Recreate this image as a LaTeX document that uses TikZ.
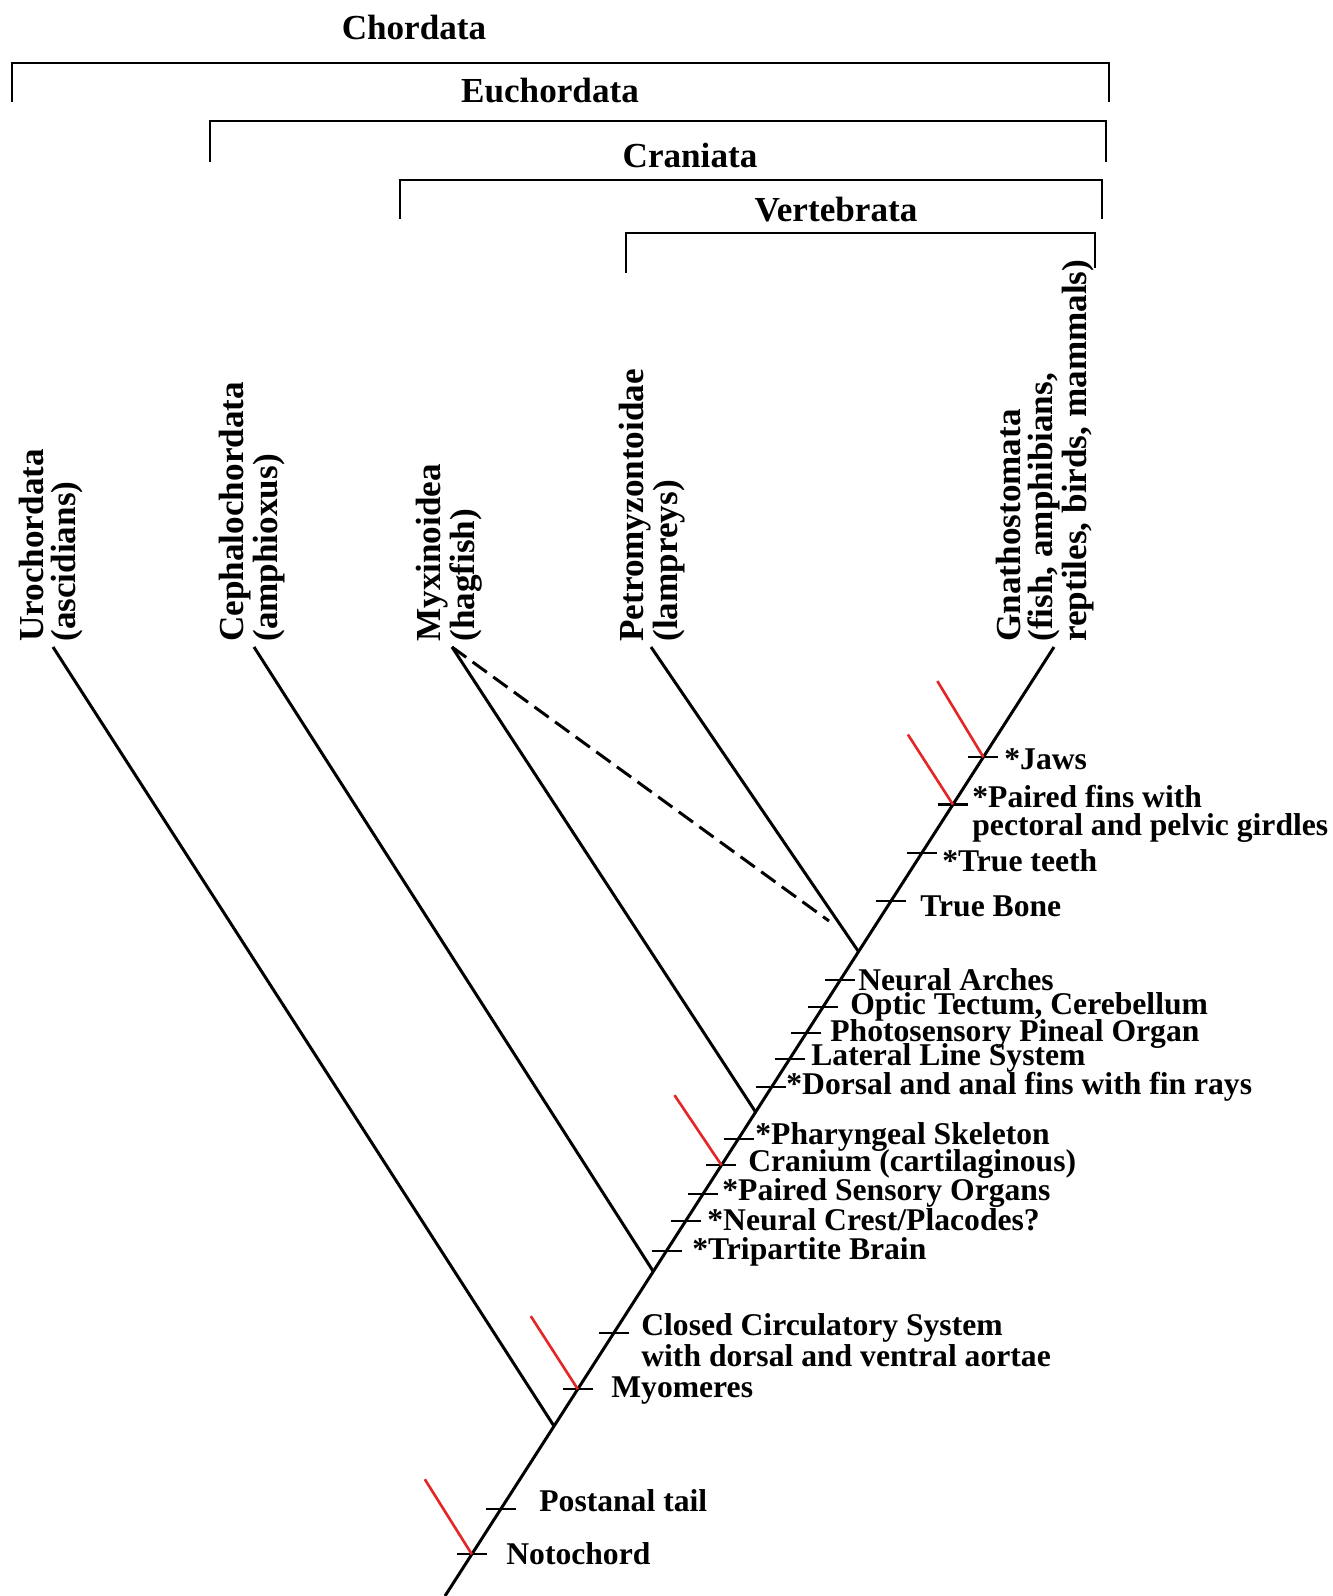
\documentclass[tikz,border=0pt]{standalone}
\usepackage{fontspec}
\setmainfont{Liberation Serif}
\usetikzlibrary{calc}

\definecolor{synred}{RGB}{228,38,38}

\begin{document}
\begin{tikzpicture}[x=0.2mm,y=-0.2mm]
  \tikzstyle{branch}=[line width=1.7pt]
  \tikzstyle{bracket}=[line width=1.3pt]
  \tikzstyle{tick}=[line width=1.2pt]
  \tikzstyle{synapo}=[draw=synred,line width=1.5pt]
  \tikzstyle{group}=[inner sep=0,font=\fontsize{20}{22}\selectfont\bfseries]
  \tikzstyle{taxon}=[rotate=90,anchor=north west,align=left,inner sep=0,font=\fontsize{20}{18}\selectfont\bfseries]
  \tikzstyle{trait}=[anchor=west,align=left,inner sep=0,font=\fontsize{18}{16.2}\selectfont\bfseries]

  \useasboundingbox (0,0) rectangle (1332,1596);

  % Group brackets
  \node[group] (chordata) at (414,27) {Chordata};
  \node[group] (euchordata) at (550,91) {Euchordata};
  \node[group] (craniata) at (690,155) {Craniata};
  \node[group] (vertebrata) at (836,210) {Vertebrata};
  \draw[bracket] (12,102) |- (1109,63) -- (1109,102);
  \draw[bracket] (210,162) |- (1106,121) -- (1106,162);
  \draw[bracket] (400,219) |- (1102,180) -- (1102,219);
  \draw[bracket] (626,273) |- (1095,233) -- (1095,268);

  % Taxa
  \node[taxon] (uro) at (19,642) {Urochordata\\(ascidians)};
  \node[taxon] (ceph) at (219,642) {Cephalochordata\\(amphioxus)};
  \node[taxon] (myx) at (416,642) {Myxinoidea\\(hagfish)};
  \node[taxon] (petro) at (619,642) {Petromyzontoidae\\(lampreys)};
  \node[taxon] (gnatho) at (996,642) {Gnathostomata\\(fish, amphibians,\\reptiles, birds, mammals)};

  % Trunk and junctions
  \coordinate (root) at (445,1596);
  \coordinate (tip) at (1054,647);
  \coordinate (urotop) at (53,647);
  \coordinate (cephtop) at (254,647);
  \coordinate (myxtop) at (452,647);
  \coordinate (petrotop) at (651,647);
  \coordinate (urojn) at ($(root)!0.179!(tip)$);
  \coordinate (cephjn) at ($(root)!0.342!(tip)$);
  \coordinate (myxjn) at ($(root)!0.510!(tip)$);
  \coordinate (petrojn) at ($(root)!0.679!(tip)$);
  \coordinate (dashend) at (829,921);

  \draw[branch] (root) -- (tip);
  \draw[branch] (urotop) -- (urojn);
  \draw[branch] (cephtop) -- (cephjn);
  \draw[branch] (myxtop) -- (myxjn);
  \draw[branch] (petrotop) -- (petrojn);
  \draw[branch,dash pattern=on 10pt off 4.5pt] (myxtop) -- (dashend);

  % Character ticks
  \coordinate (tnoto) at ($(root)!0.044!(tip)$);
  \coordinate (tpostanal) at ($(root)!0.092!(tip)$);
  \coordinate (tmyo) at ($(root)!0.218!(tip)$);
  \coordinate (tcirc) at ($(root)!0.277!(tip)$);
  \coordinate (tbrain) at ($(root)!0.364!(tip)$);
  \coordinate (tcrest) at ($(root)!0.395!(tip)$);
  \coordinate (tsense) at ($(root)!0.424!(tip)$);
  \coordinate (tcran) at ($(root)!0.454!(tip)$);
  \coordinate (tphar) at ($(root)!0.482!(tip)$);
  \coordinate (tdorsal) at ($(root)!0.536!(tip)$);
  \coordinate (tlat) at ($(root)!0.566!(tip)$);
  \coordinate (tpineal) at ($(root)!0.593!(tip)$);
  \coordinate (toptic) at ($(root)!0.621!(tip)$);
  \coordinate (tarch) at ($(root)!0.649!(tip)$);
  \coordinate (tbone) at ($(root)!0.732!(tip)$);
  \coordinate (tteeth) at ($(root)!0.783!(tip)$);
  \coordinate (tfins) at ($(root)!0.834!(tip)$);
  \coordinate (tjaws) at ($(root)!0.884!(tip)$);

  \draw[tick] (tnoto) ++(-15,0) -- ++(30,0);
  \draw[tick] (tpostanal) ++(-15,0) -- ++(30,0);
  \draw[tick] (tmyo) ++(-15,0) -- ++(30,0);
  \draw[tick] (tcirc) ++(-15,0) -- ++(30,0);
  \draw[tick] (tbrain) ++(-15,0) -- ++(30,0);
  \draw[tick] (tcrest) ++(-15,0) -- ++(30,0);
  \draw[tick] (tsense) ++(-15,0) -- ++(30,0);
  \draw[tick] (tcran) ++(-15,0) -- ++(30,0);
  \draw[tick] (tphar) ++(-15,0) -- ++(30,0);
  \draw[tick] (tdorsal) ++(-15,0) -- ++(30,0);
  \draw[tick] (tlat) ++(-15,0) -- ++(30,0);
  \draw[tick] (tpineal) ++(-15,0) -- ++(30,0);
  \draw[tick] (toptic) ++(-15,0) -- ++(30,0);
  \draw[tick] (tarch) ++(-15,0) -- ++(30,0);
  \draw[tick] (tbone) ++(-15,0) -- ++(30,0);
  \draw[tick] (tteeth) ++(-15,0) -- ++(30,0);
  \draw[tick] (tfins) ++(-15,0) -- ++(30,0);
  \draw[tick] (tjaws) ++(-15,0) -- ++(30,0);

  % Red marks
  \draw[synapo] (tnoto) -- ++(-47,-75);
  \draw[synapo] (tmyo) -- ++(-47,-73);
  \draw[synapo] (tcran) -- ++(-47,-70);
  \draw[synapo] (tfins) -- ++(-45,-70);
  \draw[synapo] (tjaws) -- ++(-46,-76);

  % Character labels
  \node[trait] (noto) at (506,1554) {Notochord};
  \node[trait] (postanal) at (539,1501) {Postanal tail};
  \node[trait] (myo) at (611,1391) {Myomeres};
  \node[trait] (circ) at (641,1340) {Closed Circulatory System\\with dorsal and ventral aortae};
  \node[trait] (brain) at (692,1252) {*Tripartite Brain};
  \node[trait] (crest) at (707,1220) {*Neural Crest/Placodes?};
  \node[trait] (sense) at (722,1193) {*Paired Sensory Organs};
  \node[trait] (cran) at (748,1164) {Cranium (cartilaginous)};
  \node[trait] (phar) at (755,1137) {*Pharyngeal Skeleton};
  \node[trait] (dorsal) at (786,1087) {*Dorsal and anal fins with fin rays};
  \node[trait] (lat) at (811,1058) {Lateral Line System};
  \node[trait] (pineal) at (830,1034) {Photosensory Pineal Organ};
  \node[trait] (optic) at (850,1007) {Optic Tectum, Cerebellum};
  \node[trait] (arch) at (858,980) {Neural Arches};
  \node[trait] (bone) at (920,906) {True Bone};
  \node[trait] (teeth) at (942,861) {*True teeth};
  \node[trait] (fins) at (972,814) {*Paired fins with\\pectoral and pelvic girdles};
  \node[trait] (jaws) at (1004,759) {*Jaws};

\end{tikzpicture}
\end{document}
